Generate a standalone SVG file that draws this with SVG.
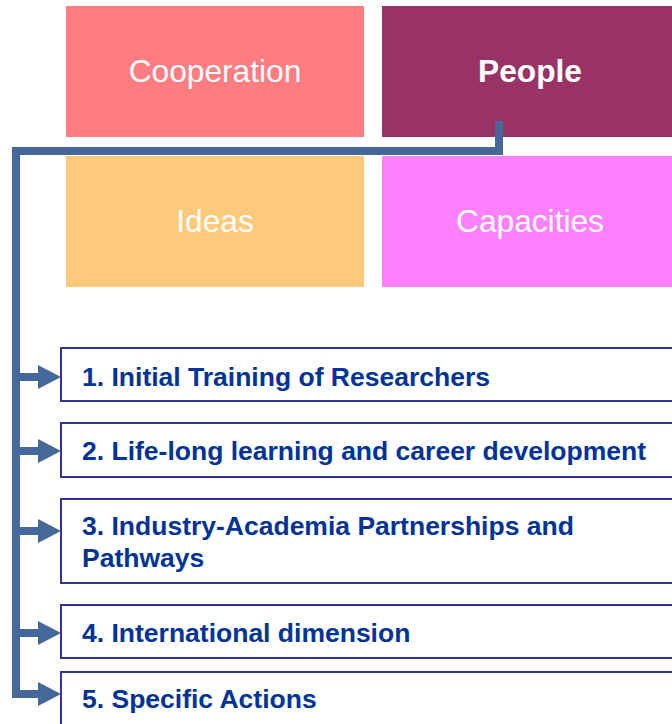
<svg xmlns="http://www.w3.org/2000/svg" width="672" height="724" viewBox="0 0 672 724">
<style>
.big{font-family:"Liberation Sans",Arial,sans-serif;font-size:31.7px;fill:#ffffff;text-anchor:middle}
.box{fill:#ffffff;stroke:#333399;stroke-width:2}
.lbl{font-family:"Liberation Sans",Arial,sans-serif;font-size:26.5px;font-weight:bold;fill:#003399}
.conn{fill:none;stroke:#46679A;stroke-width:8}
.head{fill:#46679A}
</style>
<rect width="672" height="724" fill="#ffffff"/>
<g id="cooperation"><rect x="66" y="6" width="298" height="131" fill="#FF7C80"/><text class="big" x="215" y="82">Cooperation</text></g>
<g id="people"><rect x="382" y="6" width="290" height="131" fill="#993366"/><text class="big" x="530" y="82" font-weight="bold">People</text></g>
<g id="ideas"><rect x="66" y="156" width="298" height="131" fill="#FFC97C"/><text class="big" x="215" y="232">Ideas</text></g>
<g id="capacities"><rect x="382" y="156" width="290" height="131" fill="#FF80FF"/><text class="big" x="530" y="232">Capacities</text></g>
<g id="item1"><rect class="box" x="61" y="348" width="620" height="53"/><text class="lbl" x="82" y="386">1. Initial Training of Researchers</text></g>
<g id="item2"><rect class="box" x="61" y="423" width="620" height="54"/><text class="lbl" x="82" y="460">2. Life-long learning and career development</text></g>
<g id="item3"><rect class="box" x="61" y="499" width="620" height="84"/><text class="lbl" x="82" y="535">3. Industry-Academia Partnerships and</text><text class="lbl" x="82" y="567">Pathways</text></g>
<g id="item4"><rect class="box" x="61" y="605" width="620" height="53"/><text class="lbl" x="82" y="642">4. International dimension</text></g>
<g id="item5"><rect class="box" x="61" y="672" width="620" height="60"/><text class="lbl" x="82" y="708">5. Specific Actions</text></g>
<g id="connectors">
<path class="conn" d="M499,121 V151 H16 V694 H40"/>
<path class="conn" d="M16,377 H40 M16,451 H40 M16,531 H40 M16,633 H40"/>
<polygon class="head" points="38,365 61,377 38,389"/>
<polygon class="head" points="38,439 61,451 38,463"/>
<polygon class="head" points="38,519 61,531 38,543"/>
<polygon class="head" points="38,621 61,633 38,645"/>
<polygon class="head" points="38,682 61,694 38,706"/>
</g>
</svg>
